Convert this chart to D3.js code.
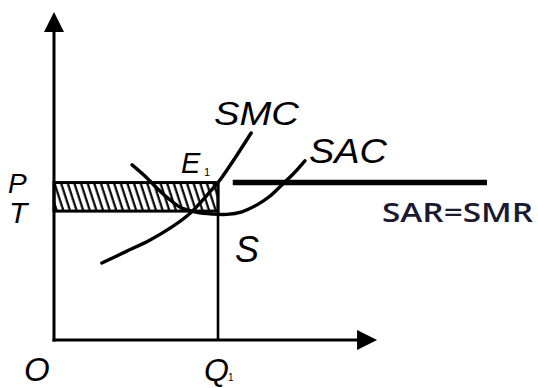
<!DOCTYPE html>
<html>
<head>
<meta charset="utf-8">
<script src="https://cdn.jsdelivr.net/npm/d3@7/dist/d3.min.js"></script>
<style>
html,body{margin:0;padding:0;background:#fff;}
svg{display:block;}
</style>
</head>
<body>
<svg id="chart" width="538" height="388"></svg>
<script>
// ---- data (quantity / cost units) ----
const smcQ    = [14.6, 21.6, 29.3, 35.4, 40.9, 45.4, 48.5, 50.6, 55.2, 60.1];
const smcCost = [23.5, 26.8, 30.5, 34.1, 38.1, 42.7, 46.3, 48.8, 55.5, 63.1];
const sacQ    = [23.8, 27.7, 31.7, 35.4, 39.0, 43.6, 48.2, 52.7, 57.3, 61.9, 65.9, 69.5, 73.2, 76.5];
const sacCost = [53.4, 50.0, 46.0, 42.7, 40.2, 38.9, 38.4, 38.3, 39.1, 41.2, 43.9, 47.3, 50.9, 54.6];
const sarQ    = [54.5, 132];
const priceP  = 48;     // P = SAR = SMR
const costT   = 39.3;   // T
const qtyQ1   = 50;     // Q1
const axisMax = [98.5, 100];
const curveLabels = ["SMC", "SAC"];
const priceLabels = ["P", "T"];
const lineLabel = "SAR=SMR";

const svg = d3.select("#chart");
const x = d3.scaleLinear().domain([0, 100]).range([54, 382]);
const y = d3.scaleLinear().domain([0, 100]).range([340, 12]);

// hatch pattern
const defs = svg.append("defs");
const pat = defs.append("pattern")
  .attr("id", "hatch").attr("patternUnits", "userSpaceOnUse")
  .attr("width", 6.3).attr("height", 10)
  .attr("patternTransform", "rotate(-18)");
pat.append("line").attr("x1", 1.5).attr("y1", -2).attr("x2", 1.5).attr("y2", 12)
  .attr("stroke", "#000").attr("stroke-width", 2.2);

// shaded profit rectangle
svg.append("rect")
  .attr("x", x(0)).attr("y", y(priceP))
  .attr("width", x(qtyQ1) - x(0)).attr("height", y(costT) - y(priceP))
  .attr("fill", "url(#hatch)")
  .attr("stroke", "#000").attr("stroke-width", 3);

// Q1 vertical
svg.append("line")
  .attr("x1", x(qtyQ1)).attr("x2", x(qtyQ1))
  .attr("y1", y(priceP)).attr("y2", y(0))
  .attr("stroke", "#000").attr("stroke-width", 2.6);

// SAR = SMR line
svg.append("line")
  .attr("x1", x(sarQ[0])).attr("x2", x(sarQ[1]))
  .attr("y1", y(priceP)).attr("y2", y(priceP))
  .attr("stroke", "#000").attr("stroke-width", 5.5);

// curves
const line = d3.line().x(d => x(d[0])).y(d => y(d[1])).curve(d3.curveCatmullRom.alpha(0.5));
svg.append("path").datum(smcQ.map((q, i) => [q, smcCost[i]]))
  .attr("d", line).attr("fill", "none").attr("stroke", "#000")
  .attr("stroke-width", 3.4).attr("stroke-linecap", "round");
svg.append("path").datum(sacQ.map((q, i) => [q, sacCost[i]]))
  .attr("d", line).attr("fill", "none").attr("stroke", "#000")
  .attr("stroke-width", 3.4).attr("stroke-linecap", "round");

// axes
svg.append("line").attr("x1", x(0)).attr("x2", x(0)).attr("y1", y(0) + 1.5).attr("y2", y(axisMax[1]) + 18)
  .attr("stroke", "#000").attr("stroke-width", 3);
svg.append("line").attr("x1", x(0) - 1.5).attr("x2", x(axisMax[0]) - 18).attr("y1", y(0)).attr("y2", y(0))
  .attr("stroke", "#000").attr("stroke-width", 3);
svg.append("path")
  .attr("d", `M${x(0)},${y(axisMax[1])} L${x(0) - 10},${y(axisMax[1]) + 20} L${x(0) + 10},${y(axisMax[1]) + 20} Z`)
  .attr("fill", "#000");
svg.append("path")
  .attr("d", `M${x(axisMax[0])},${y(0)} L${x(axisMax[0]) - 20},${y(0) - 10} L${x(axisMax[0]) - 20},${y(0) + 10} Z`)
  .attr("fill", "#000");

// labels
const lab = (t, px, py, size, opts = {}) => {
  const el = svg.append("text").attr("x", px).attr("y", py)
    .attr("font-family", opts.family || "'Liberation Sans', Arial, sans-serif")
    .attr("font-style", opts.style || "italic")
    .attr("font-weight", opts.weight || "normal")
    .attr("font-size", size).attr("fill", opts.fill || "#000")
    .text(t);
  if (opts.len) el.attr("textLength", opts.len).attr("lengthAdjust", "spacingAndGlyphs");
  return el;
};
lab(curveLabels[0], 214, 125, 34, {len: 85});
lab(curveLabels[1], 309, 163, 35, {len: 78});
lab("E", 181, 173, 29);
lab("1", 204, 176, 11, {style: "normal"});
lab(priceLabels[0], 8, 193, 28);
lab(priceLabels[1], 9, 223, 30);
lab("S", 235, 262, 36);
lab("O", 24, 381, 33);
lab("Q", 204, 381, 32);
lab("1", 228, 381, 10, {style: "normal"});
lab(lineLabel, 382, 222, 27, {style: "normal", family: "'Open Sans', sans-serif", weight: 600, fill: "#1a1a33", len: 151});
</script>
</body>
</html>
